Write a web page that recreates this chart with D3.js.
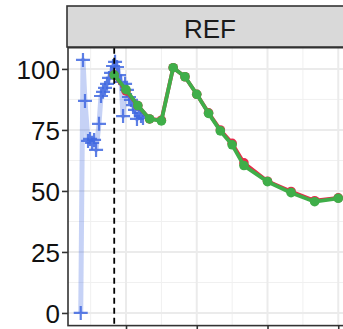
<!DOCTYPE html>
<html><head><meta charset="utf-8">
<script src="https://cdn.jsdelivr.net/npm/d3@7"></script>
<style>html,body{margin:0;padding:0;background:#fff;overflow:hidden}</style>
</head><body>
<script>
// ---- data ----
const facetLabel = "REF";
const yTicks = [0, 25, 50, 75, 100];
const yMinor = [12.5, 37.5, 62.5, 87.5];
const xTicks = [0, 6, 12, 18];
const xMinor = [-3, 3, 9, 15];
const refLine = -1;
const blueX = [-3.84,-3.65,-3.48,-3.22,-3.05,-2.88,-2.71,-2.54,-2.29,-2.12,-1.95,-1.78,-1.61,-1.44,-1.27,-1.10,-0.93,-0.76,-0.59,-0.42,-0.25,-0.08,0.08,0.25,0.42,0.59,0.76,0.93,1.10,1.27,1.44];
const blueY = [0,103.7,86.9,70.5,71.3,69.7,70.9,66.8,77.5,88.9,90.6,92.2,93.9,96.3,98.4,101.2,102.9,100.8,97.5,94.7,80.7,93.9,91.4,88.5,87.3,85.2,83.2,79.5,82.0,80.7,79.9];
const lineX = [-1,0,1,2,3,4,5,6,7,8,9,10,12,14,16,18];
const redY = [97.5,91,85,79.5,79,100.5,96.8,89.6,82,75,69.5,61.5,54,49.8,46,47.2];
const greenY = [97.5,91.5,85,79.5,78.7,100.5,96.8,89.6,81.8,74.6,68.9,60.4,53.8,49.3,45.6,47.0];

// ---- layout ----
const W = 343, H = 329;
const P = {l: 68, r: 355, t: 47.7, b: 325.6};
const svg = d3.select("body").append("svg").attr("width", W).attr("height", H);
const x = d3.scaleLinear().domain([-4.92, 19.42]).range([P.l, P.r]);
const y = d3.scaleLinear().domain([-5.18, 108.7]).range([P.b, P.t]);

const g = svg.append("g");
g.append("rect").attr("x", P.l).attr("y", P.t).attr("width", P.r - P.l).attr("height", P.b - P.t).attr("fill", "#fff");
// grid
g.selectAll(".ym").data(yMinor).join("line").attr("x1", P.l).attr("x2", P.r).attr("y1", d => y(d)).attr("y2", d => y(d)).attr("stroke", "#f0f0f0").attr("stroke-width", 1);
g.selectAll(".xm").data(xMinor).join("line").attr("y1", P.t).attr("y2", P.b).attr("x1", d => x(d)).attr("x2", d => x(d)).attr("stroke", "#f0f0f0").attr("stroke-width", 1);
g.selectAll(".yM").data(yTicks).join("line").attr("x1", P.l).attr("x2", P.r).attr("y1", d => y(d)).attr("y2", d => y(d)).attr("stroke", "#ebebeb").attr("stroke-width", 2);
g.selectAll(".xM").data(xTicks).join("line").attr("y1", P.t).attr("y2", P.b).attr("x1", d => x(d)).attr("x2", d => x(d)).attr("stroke", "#ebebeb").attr("stroke-width", 2);

// blue series
const blue = blueX.map((d, i) => [d, blueY[i]]);
g.append("path").datum(blue).attr("d", d3.line().x(d => x(d[0])).y(d => y(d[1])))
  .attr("fill", "none").attr("stroke", "#4169e1").attr("stroke-opacity", 0.3).attr("stroke-width", 5).attr("stroke-linejoin", "round");
g.selectAll(".cross").data(blue).join("path")
  .attr("d", d => `M${x(d[0]) - 7},${y(d[1])}H${x(d[0]) + 7}M${x(d[0])},${y(d[1]) - 7}V${y(d[1]) + 7}`)
  .attr("stroke", "#4169e1").attr("stroke-opacity", 0.85).attr("stroke-width", 2.2).attr("fill", "none");

// red and green
function series(vals, col) {
  const pts = lineX.map((d, i) => [d, vals[i]]);
  g.append("path").datum(pts).attr("d", d3.line().x(d => x(d[0])).y(d => y(d[1])))
    .attr("fill", "none").attr("stroke", col).attr("stroke-width", 3.8).attr("stroke-linejoin", "round");
  g.selectAll(null).data(pts).join("circle").attr("cx", d => x(d[0])).attr("cy", d => y(d[1])).attr("r", 4.8).attr("fill", col);
}
series(redY, "#e8294a");
series(greenY, "#3fae49");

// dashed reference
g.append("line").attr("x1", x(refLine)).attr("x2", x(refLine)).attr("y1", P.t).attr("y2", P.b)
  .attr("stroke", "#000").attr("stroke-width", 1.8).attr("stroke-dasharray", "6,4");

// panel border
g.append("rect").attr("x", P.l).attr("y", P.t).attr("width", P.r - P.l).attr("height", P.b - P.t).attr("fill", "none").attr("stroke", "#333").attr("stroke-width", 1.6);

// strip
svg.append("rect").attr("x", P.l - 1).attr("y", 6).attr("width", P.r - P.l + 2).attr("height", 41).attr("fill", "#d9d9d9").attr("stroke", "#333").attr("stroke-width", 1.6);
svg.append("text").attr("x", (P.l + 352) / 2).attr("y", 38).attr("text-anchor", "middle")
  .attr("font-family", "Liberation Sans, Arial, sans-serif").attr("font-size", 26).attr("fill", "#1a1a1a").text(facetLabel);

// y axis
const ya = svg.append("g").attr("transform", `translate(${P.l},0)`)
  .call(d3.axisLeft(y).tickValues(yTicks).tickSize(6).tickPadding(2));
ya.select(".domain").remove();
ya.selectAll(".tick line").attr("stroke", "#333").attr("stroke-width", 1.6);
ya.selectAll(".tick text").attr("font-family", "Liberation Sans, Arial, sans-serif").attr("font-size", 26).attr("fill", "#111").attr("dy", "0.36em");

// x axis ticks
const xa = svg.append("g").attr("transform", `translate(0,${P.b})`)
  .call(d3.axisBottom(x).tickValues(xTicks).tickSize(6).tickFormat(""));
xa.select(".domain").remove();
xa.selectAll(".tick line").attr("stroke", "#333").attr("stroke-width", 1.6);
</script>
</body></html>
